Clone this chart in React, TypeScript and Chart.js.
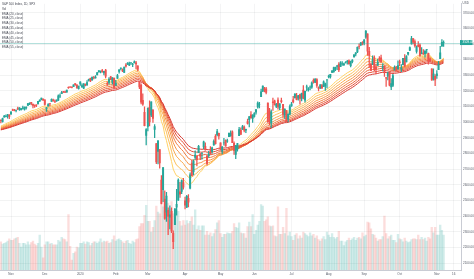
import React, { useEffect, useRef } from "react";
import { Chart, registerables } from "chart.js";
Chart.register(...registerables);

// Daily S&P 500 candles, Oct 24 2019 .. Nov 6 2020 (index = trading day)
const opens = [
  3014,3004,3032,3036,3039,3047,3051,3079,3080,3075,
  3087,3082,3081,3089,3084,3091,3107,3118,3128,3114,
  3109,3112,3118,3135,3146,3148,3144,3087,3103,3119,
  3134,3141,3135,3136,3142,3167,3183,3195,3195,3192,
  3223,3227,3225,3227,3247,3240,3215,3245,3226,3218,
  3242,3238,3267,3281,3271,3285,3283,3303,3323,3321,
  3330,3316,3334,3248,3255,3290,3256,3283,3236,3280,
  3325,3344,3335,3318,3366,3370,3365,3379,3370,3380,
  3380,3361,3258,3238,3140,3063,2916,2974,3096,3045,
  3076,2955,2864,2813,2825,2631,2570,2509,2425,2437,
  2394,2431,2291,2345,2458,2502,2555,2558,2614,2498,
  2458,2514,2579,2739,2685,2776,2782,2805,2796,2799,
  2843,2846,2785,2787,2810,2812,2855,2910,2919,2930,
  2869,2815,2868,2884,2879,2908,2915,2939,2865,2795,
  2830,2914,2948,2954,2970,2949,3005,3016,3047,3025,
  3038,3064,3098,3112,3164,3199,3213,3213,3123,3072,
  2994,3131,3137,3102,3141,3094,3138,3115,3046,3074,
  3018,3051,3105,3143,3155,3166,3154,3177,3152,3205,
  3141,3225,3209,3225,3224,3268,3254,3272,3219,3219,
  3234,3227,3232,3270,3289,3289,3318,3323,3340,3357,
  3370,3356,3373,3368,3380,3388,3392,3361,3387,3419,
  3436,3449,3486,3495,3509,3507,3543,3565,3453,3372,
  3369,3412,3352,3364,3407,3411,3346,3357,3285,3295,
  3320,3226,3236,3334,3350,3341,3386,3339,3368,3409,
  3385,3435,3460,3501,3534,3516,3453,3493,3494,3439,
  3440,3439,3464,3441,3404,3342,3277,3294,3297,3336,
  3406,3486,3508,
];
const highs = [
  3016,3027,3044,3047,3050,3047,3067,3085,3083,3079,
  3097,3094,3089,3103,3098,3098,3121,3124,3128,3118,
  3111,3112,3134,3143,3154,3150,3144,3095,3120,3120,
  3150,3148,3143,3144,3176,3182,3197,3198,3199,3205,
  3226,3227,3226,3240,3248,3240,3231,3258,3246,3247,
  3245,3267,3276,3283,3288,3294,3298,3317,3329,3329,
  3338,3326,3338,3259,3286,3293,3286,3283,3268,3306,
  3337,3348,3341,3352,3375,3381,3385,3381,3376,3393,
  3390,3361,3260,3246,3182,3098,2960,3091,3137,3130,
  3083,2985,2864,2883,2825,2660,2711,2562,2553,2453,
  2466,2453,2307,2449,2572,2638,2616,2632,2642,2522,
  2533,2538,2677,2757,2760,2818,2783,2852,2801,2807,
  2879,2868,2785,2815,2844,2842,2888,2922,2955,2931,
  2869,2844,2898,2887,2892,2933,2945,2945,2875,2853,
  2865,2968,2964,2980,2978,2957,3021,3036,3068,3049,
  3062,3081,3131,3128,3212,3233,3223,3223,3124,3089,
  3079,3154,3141,3121,3156,3120,3155,3115,3086,3074,
  3054,3111,3128,3165,3183,3185,3172,3180,3187,3235,
  3200,3238,3221,3233,3259,3278,3279,3279,3227,3241,
  3243,3264,3250,3272,3302,3307,3330,3352,3352,3364,
  3381,3387,3388,3378,3387,3396,3399,3391,3400,3432,
  3445,3482,3502,3510,3515,3529,3588,3565,3479,3379,
  3425,3425,3369,3403,3419,3429,3375,3362,3285,3320,
  3323,3279,3307,3360,3358,3393,3397,3369,3409,3432,
  3426,3447,3482,3549,3534,3527,3489,3515,3502,3477,
  3465,3461,3466,3442,3410,3342,3342,3305,3331,3389,
  3486,3529,3521,
];
const lows = [
  2996,3001,3032,3034,3026,3023,3051,3074,3073,3066,
  3080,3075,3077,3083,3078,3084,3107,3113,3111,3091,
  3095,3099,3118,3133,3143,3139,3110,3070,3103,3103,
  3134,3135,3125,3133,3138,3157,3183,3191,3191,3192,
  3216,3222,3220,3227,3235,3216,3212,3236,3223,3214,
  3232,3236,3263,3260,3268,3277,3281,3302,3318,3316,
  3320,3302,3283,3235,3243,3272,3243,3214,3236,3280,
  3313,3334,3323,3317,3352,3369,3361,3369,3356,3379,
  3342,3328,3214,3118,3108,2977,2855,2945,2977,3035,
  2999,2901,2735,2734,2707,2478,2492,2380,2367,2281,
  2319,2295,2192,2345,2407,2501,2520,2544,2572,2447,
  2455,2459,2574,2657,2664,2762,2721,2805,2761,2764,
  2830,2821,2727,2776,2795,2801,2852,2860,2913,2892,
  2821,2798,2853,2848,2871,2908,2910,2869,2794,2767,
  2816,2914,2922,2954,2939,2934,2988,2970,3024,2999,
  3032,3052,3090,3091,3163,3196,3194,3181,2999,2984,
  2966,3076,3109,3094,3083,3080,3124,3033,3024,3004,
  3002,3047,3101,3124,3155,3143,3142,3115,3137,3149,
  3128,3201,3198,3206,3216,3250,3253,3223,3200,3215,
  3216,3227,3204,3220,3284,3281,3317,3319,3329,3336,
  3323,3356,3364,3362,3379,3371,3369,3354,3380,3414,
  3424,3445,3468,3490,3495,3494,3536,3427,3350,3330,
  3369,3329,3310,3364,3389,3384,3328,3293,3229,3271,
  3232,3209,3228,3333,3327,3340,3362,3324,3367,3354,
  3385,3429,3458,3499,3500,3480,3441,3481,3420,3436,
  3433,3416,3440,3371,3389,3268,3269,3234,3280,3336,
  3406,3486,3485,
];
const closes = [
  3010,3023,3039,3037,3047,3038,3067,3078,3075,3077,
  3085,3093,3087,3092,3094,3097,3120,3122,3120,3108,
  3104,3110,3134,3141,3154,3141,3114,3093,3113,3117,
  3146,3136,3133,3142,3169,3169,3191,3193,3191,3205,
  3221,3224,3223,3240,3240,3221,3231,3258,3235,3246,
  3237,3253,3275,3265,3288,3283,3289,3317,3330,3321,
  3322,3326,3295,3244,3276,3273,3284,3226,3249,3298,
  3335,3346,3328,3352,3358,3379,3374,3380,3370,3386,
  3373,3338,3226,3128,3116,2979,2954,3090,3003,3130,
  3024,2972,2747,2882,2741,2481,2711,2386,2529,2398,
  2409,2305,2237,2447,2476,2630,2541,2627,2585,2471,
  2527,2489,2664,2659,2750,2790,2762,2846,2783,2800,
  2875,2823,2737,2799,2798,2837,2878,2863,2940,2912,
  2831,2843,2868,2848,2881,2930,2930,2870,2820,2853,
  2864,2954,2923,2972,2949,2955,2992,3036,3030,3044,
  3056,3081,3123,3112,3194,3232,3207,3190,3002,3041,
  3067,3125,3113,3115,3098,3118,3131,3050,3084,3009,
  3053,3100,3116,3130,3180,3145,3170,3152,3185,3155,
  3198,3227,3216,3225,3252,3257,3276,3236,3216,3239,
  3218,3258,3246,3271,3295,3307,3328,3349,3351,3360,
  3334,3380,3373,3373,3382,3390,3375,3386,3397,3431,
  3444,3479,3485,3508,3500,3527,3581,3455,3427,3332,
  3399,3339,3341,3384,3401,3385,3357,3319,3281,3316,
  3237,3247,3298,3352,3335,3363,3381,3348,3409,3361,
  3419,3447,3477,3534,3512,3489,3483,3484,3427,3443,
  3436,3453,3465,3401,3391,3271,3310,3270,3310,3369,
  3443,3510,3509.44,
];
// volume, billions of shares
const volumes = [
  3.7,3.4,3.5,3.6,3.8,4.1,3.9,3.9,4.1,4.2,
  4.3,3.5,3.0,3.5,3.5,3.3,3.7,3.3,3.6,3.8,
  3.4,3.2,3.5,4.6,3.0,1.6,3.3,3.7,3.7,3.4,
  3.5,3.3,3.3,3.3,3.9,3.7,4.3,4.1,4.0,3.7,
  7.3,3.1,1.3,2.2,2.4,3.0,2.9,3.5,3.5,3.7,
  3.4,3.7,3.6,3.2,3.5,3.7,3.7,3.5,3.7,4.1,
  3.6,3.8,3.7,3.8,3.5,3.6,4.0,4.5,3.8,4.0,
  4.1,3.9,3.7,3.5,3.8,3.9,3.5,3.4,3.8,3.6,
  4.0,4.1,5.7,6.1,6.1,7.2,8.5,6.4,6.4,5.0,
  5.6,6.5,8.4,7.6,7.4,8.8,8.3,7.8,8.4,8.8,
  8.0,9.0,7.4,7.5,7.9,7.7,6.4,5.8,6.5,5.9,
  6.5,6.1,6.4,7.0,5.9,7.9,5.3,5.8,5.2,5.8,
  5.8,4.6,5.1,4.6,4.9,4.4,4.8,5.3,6.2,6.5,
  4.8,4.3,4.7,4.7,4.9,4.8,4.8,5.1,6.1,5.6,
  5.5,6.2,4.9,4.8,4.8,4.2,5.7,6.3,5.7,7.3,
  4.7,5.2,5.9,6.4,8.6,8.4,6.4,6.6,7.0,5.8,
  5.7,5.8,4.5,4.4,8.3,4.7,4.7,5.6,4.8,8.1,
  4.5,5.0,4.4,3.9,4.6,4.8,4.1,4.5,4.2,5.0,
  4.8,4.6,4.4,4.9,4.5,4.7,4.2,4.5,4.0,3.8,
  4.1,4.4,4.0,5.0,4.6,4.3,4.8,4.3,4.1,4.3,
  5.1,3.8,3.8,3.2,3.7,3.9,4.2,3.9,4.1,4.3,
  3.9,4.2,4.3,4.1,4.9,4.4,4.6,6.3,6.2,5.4,
  4.7,4.6,4.2,3.8,4.0,4.0,4.4,7.1,4.8,4.1,
  4.4,4.6,3.9,3.9,3.6,4.7,4.1,4.0,3.7,4.2,
  3.8,3.6,3.7,4.0,4.1,4.1,4.0,4.6,4.0,4.3,
  4.0,4.2,3.8,4.3,4.1,5.6,4.9,5.6,4.6,4.6,
  5.9,5.2,4.6,
];

const emaLengths = [20, 25, 30, 35, 40, 45, 50, 55];
// EMA values just before the first visible bar (read from the left edge)
const emaSeeds = [2972, 2967, 2963, 2960, 2957, 2954, 2951, 2949];
const emaColors = ["#ffd166", "#fcbf5a", "#f9a94f", "#f59346", "#f07c3f", "#ea6439", "#e44c35", "#d83a32"];

const xTickIndex = [6, 26, 47, 68, 87, 109, 130, 150, 172, 194, 215, 236, 258, 268];
const xTickLabels = ["Nov", "Dec", "2020", "Feb", "Mar", "Apr", "May", "Jun", "Jul", "Aug", "Sep", "Oct", "Nov", "16"];
const yTickValues = [2100, 2200, 2300, 2400, 2500, 2600, 2700, 2800, 2900, 3000, 3100, 3200, 3300, 3400, 3500, 3600, 3700];

const titleText = "S&P 500 Index, 1D, SPX";
const volLabel = "Vol";
const currency = "USD";
const lastPrice = 3509.44;

const UP = "#26a69a";
const DOWN = "#ef5350";
const FONT = "'Liberation Sans', Arial, sans-serif";

function emaSeries(len: number, seed: number) {
  const k = 2 / (len + 1);
  let e = seed;
  return closes.map((c, i) => {
    e = e + k * (c - e);
    return { x: i, y: e };
  });
}

export default function App() {
  const ref = useRef<HTMLCanvasElement | null>(null);
  useEffect(() => {
    const canvas = ref.current;
    if (!canvas) return;
    const up = closes.map((c, i) => c >= opens[i]);
    const candleColors = up.map((u) => (u ? UP : DOWN));
    const volColors = up.map((u) => (u ? "rgba(38,166,154,0.2)" : "rgba(239,83,80,0.2)"));

    const overlay = {
      id: "overlay",
      afterDatasetsDraw(chart: any) {
        const ctx = chart.ctx;
        const a = chart.chartArea;
        const py = Math.round(chart.scales.y.getPixelForValue(lastPrice)) + 0.5;
        ctx.save();
        ctx.strokeStyle = UP;
        ctx.globalAlpha = 0.35;
        ctx.lineWidth = 1;
        ctx.beginPath();
        ctx.moveTo(a.left, py);
        ctx.lineTo(a.right, py);
        ctx.stroke();
        ctx.restore();
      },
      afterDraw(chart: any) {
        const ctx = chart.ctx;
        const a = chart.chartArea;
        const py = chart.scales.y.getPixelForValue(lastPrice);
        ctx.save();
        // price tag
        ctx.fillStyle = UP;
        ctx.fillRect(a.right - 1, py - 2.5, 12.5, 5);
        ctx.fillStyle = "#ffffff";
        ctx.font = `3px ${FONT}`;
        ctx.textBaseline = "middle";
        ctx.textAlign = "left";
        ctx.fillText(lastPrice.toFixed(2), a.right + 1.5, py);
        // currency
        ctx.fillStyle = "#555a66";
        ctx.fillText(currency, a.right + 1.5, 3);
        // legend
        ctx.fillStyle = "#434651";
        ctx.fillText(titleText, 2, 4);
        ctx.fillText(volLabel, 2, 8.7);
        emaLengths.forEach((n, k) => {
          ctx.fillText(`EMA (${n}, close)`, 2, 13.7 + k * 4.8);
        });
        ctx.restore();
      },
    };

    const datasets: any[] = [
      {
        type: "bar",
        data: volumes.map((v, i) => ({ x: i, y: v })),
        yAxisID: "yv",
        backgroundColor: volColors,
        barThickness: 1.69,
        grouped: false,
        order: 10,
      },
      ...emaLengths.map((n, k) => ({
        type: "line",
        data: emaSeries(n, emaSeeds[k]),
        yAxisID: "y",
        borderColor: emaColors[k],
        borderWidth: 1,
        pointRadius: 0,
        tension: 0,
        order: 5 + (emaLengths.length - k) * 0.01,
      })),
      {
        type: "bar",
        data: closes.map((c, i) => ({ x: i, y: [lows[i], highs[i]] })),
        yAxisID: "y",
        backgroundColor: candleColors,
        barThickness: 0.6,
        grouped: false,
        order: 2,
      },
      {
        type: "bar",
        data: closes.map((c, i) => ({ x: i, y: [opens[i], c] })),
        yAxisID: "y",
        backgroundColor: candleColors,
        barThickness: 1.3,
        grouped: false,
        order: 1,
      },
    ];

    const chart = new Chart(canvas, {
      type: "bar",
      data: { datasets },
      plugins: [overlay],
      options: {
        animation: false,
        responsive: false,
        devicePixelRatio: 1,
        events: [],
        layout: { padding: 0 },
        plugins: { legend: { display: false }, tooltip: { enabled: false } },
        scales: {
          x: {
            type: "linear",
            min: -0.51,
            max: 272.3,
            offset: false,
            grid: { color: "rgba(42,46,57,0.05)", drawTicks: false, offset: false },
            border: { color: "#c9ccd4" },
            ticks: {
              autoSkip: false,
              maxRotation: 0,
              padding: 2.5,
              color: "#555a66",
              font: { size: 3, family: FONT },
              callback: (v: any) => {
                const k = xTickIndex.indexOf(Number(v));
                return k >= 0 ? xTickLabels[k] : "";
              },
            },
            afterBuildTicks: (s: any) => {
              s.ticks = xTickIndex.map((v) => ({ value: v }));
            },
            afterFit: (s: any) => {
              s.height = 9;
            },
          },
          y: {
            position: "right",
            min: 2056,
            max: 3757,
            grid: { color: "rgba(42,46,57,0.06)", drawTicks: false },
            border: { color: "#c9ccd4" },
            ticks: {
              padding: 2,
              color: "#555a66",
              font: { size: 3, family: FONT },
              callback: (v: any) => Number(v).toFixed(2),
            },
            afterBuildTicks: (s: any) => {
              s.ticks = yTickValues.map((v) => ({ value: v }));
            },
            afterFit: (s: any) => {
              s.width = 13;
            },
          },
          yv: { display: false, min: 0, max: 35 },
        },
      } as any,
    } as any);
    return () => chart.destroy();
  }, []);

  return (
    <div style={{ position: "fixed", left: 0, top: 0, width: 474, height: 279, background: "#ffffff" }}>
      <canvas ref={ref} width={474} height={279} style={{ display: "block" }} />
    </div>
  );
}
